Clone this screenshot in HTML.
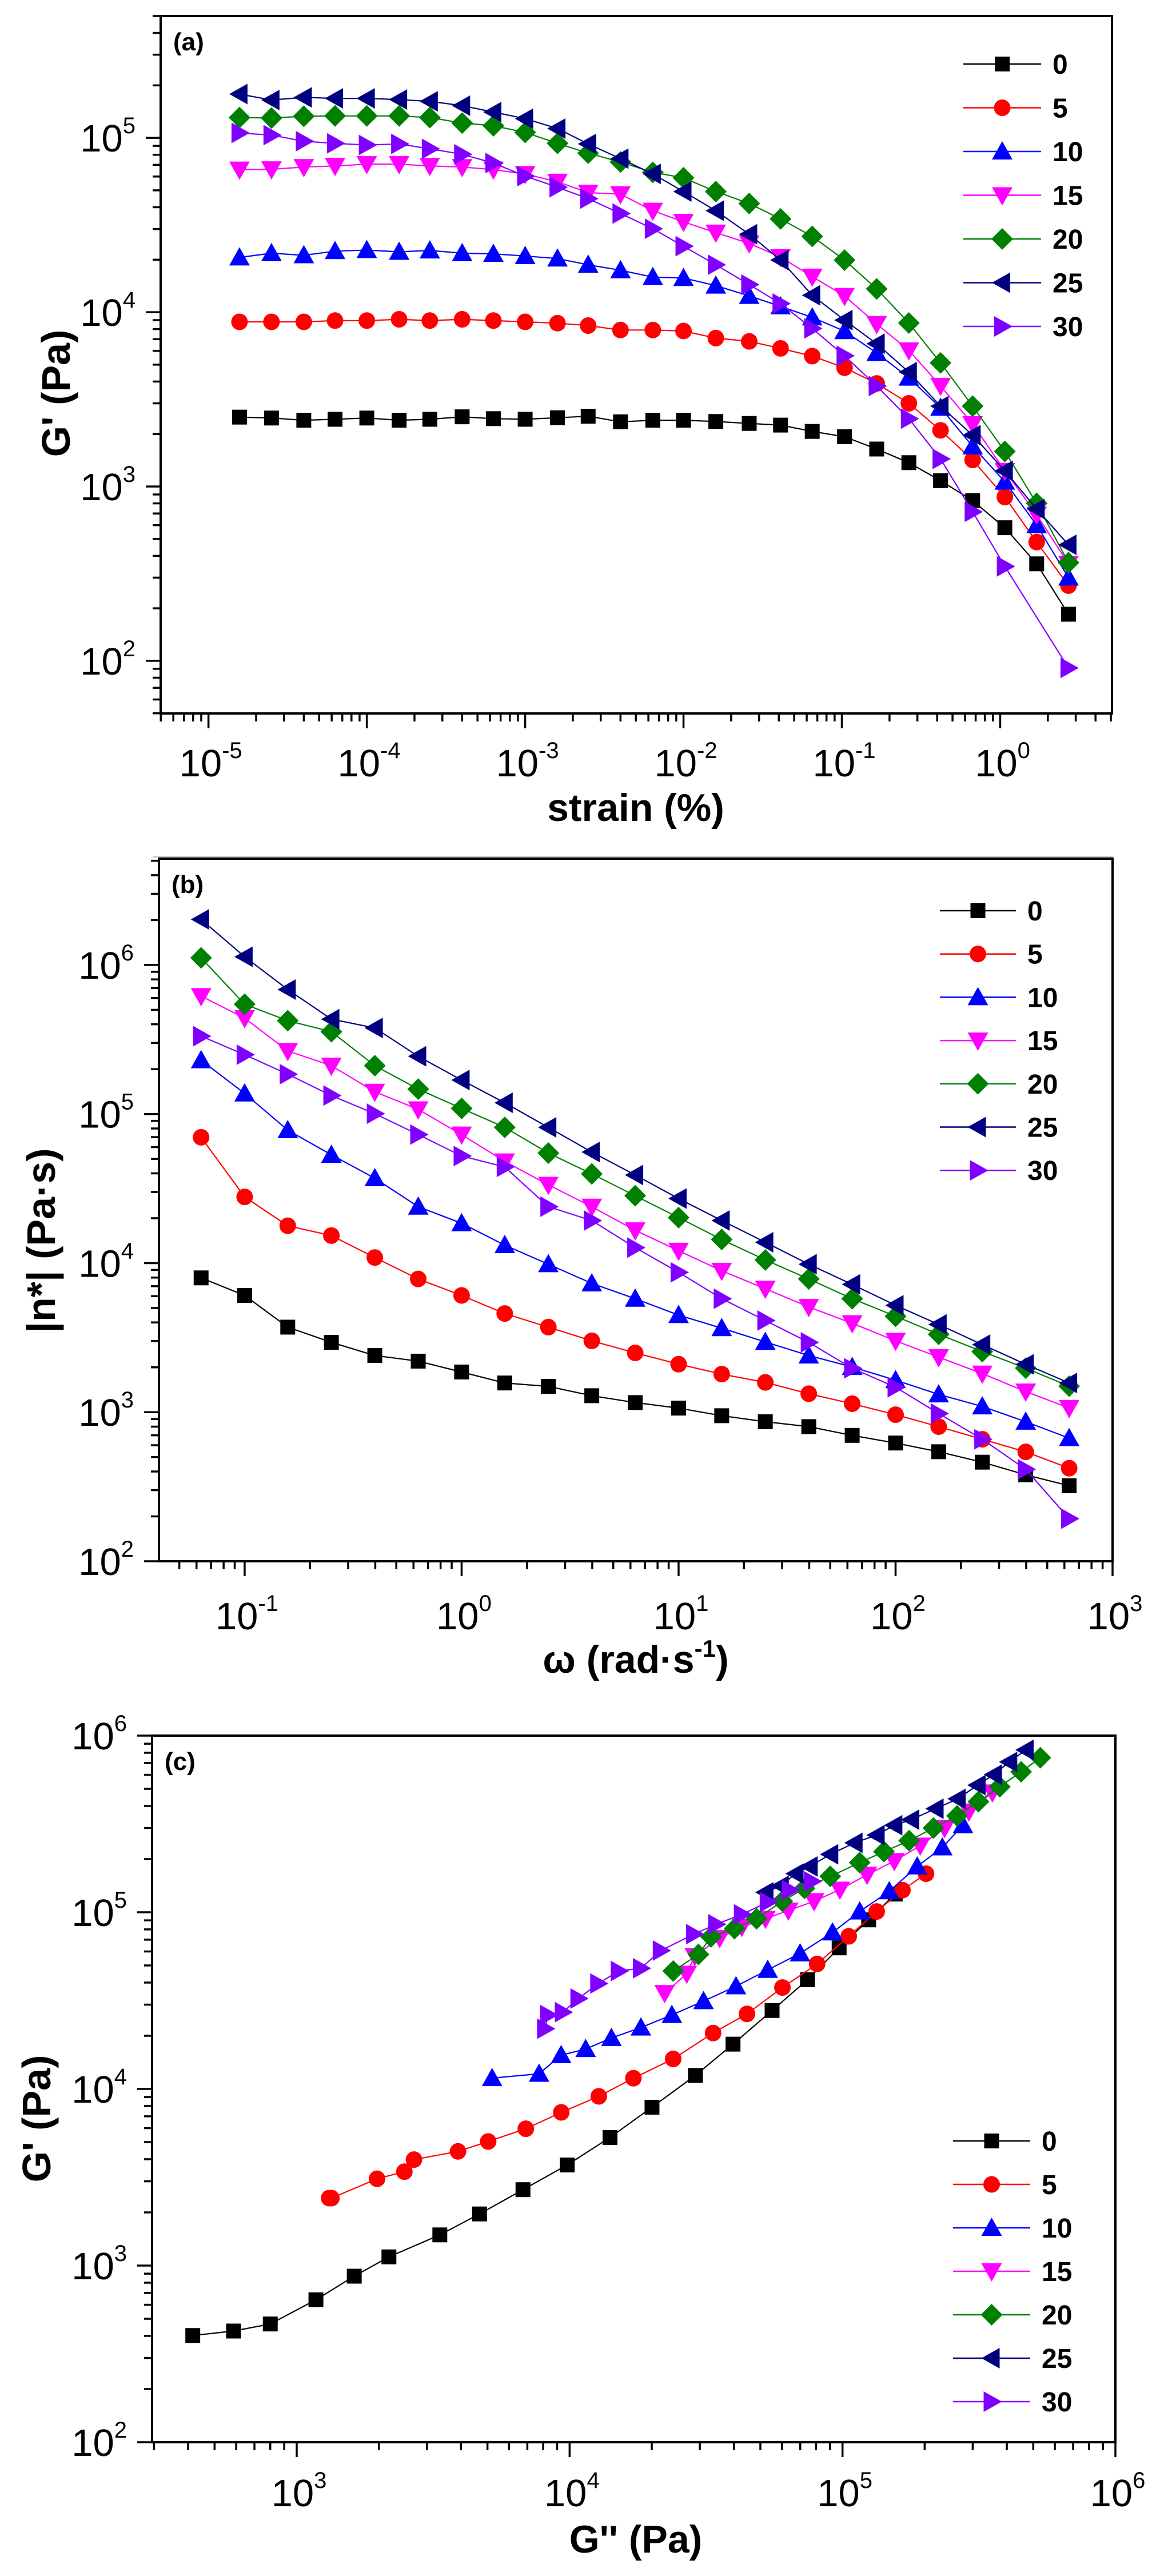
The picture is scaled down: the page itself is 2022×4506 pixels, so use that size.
<!DOCTYPE html>
<html><head><meta charset="utf-8"><title>Rheology figure</title>
<style>
html,body{margin:0;padding:0;background:#fff;}
svg{display:block;font-family:"Liberation Sans",Arial,sans-serif;}
</style></head>
<body>
<svg id="fig" width="2022" height="4506" viewBox="0 0 2022 4506" xmlns="http://www.w3.org/2000/svg">
<line x1="267" y1="1499" x2="1947" y2="1499" stroke="#bbb" stroke-width="2"/>
</svg>
<script>
// ---------- shared ----------
const seriesNames = ["0","5","10","15","20","25","30"];
const seriesColors = ["#000000","#ff0000","#0000ff","#ff00ff","#008000","#000080","#8000ff"];
const seriesShapes = ["square","circle","up","down","diamond","left","right"];

// ---------- panel (a): G' vs strain ----------
const strainA = [1.57e-5,2.5e-5,4.0e-5,6.3e-5,1.0e-4,1.6e-4,2.5e-4,4.0e-4,6.3e-4,1.0e-3,1.6e-3,2.5e-3,4.0e-3,6.4e-3,1.0e-2,1.6e-2,2.6e-2,4.1e-2,6.5e-2,0.104,0.166,0.265,0.42,0.67,1.07,1.7,2.7];
const gA0 = [2500,2470,2400,2430,2470,2400,2430,2510,2450,2430,2480,2530,2350,2400,2400,2360,2300,2250,2070,1930,1640,1370,1080,830,580,360,185];
const gA5 = [8800,8800,8800,8950,8950,9100,8950,9100,8950,8800,8650,8380,7900,7900,7800,7100,6800,6200,5600,4800,3900,3000,2100,1420,870,480,270];
const gA10 = [20600,21800,21200,22400,22700,22200,22600,21800,21600,21000,20300,18700,17400,15900,15700,14200,12400,10800,9330,7780,5830,4210,2830,1700,1065,600,300];
const gA15 = [65800,66000,68000,69000,70700,70700,69000,68000,65800,62000,56000,48500,47500,38200,33000,28600,24800,20700,16000,12400,8550,6040,3780,2280,1230,690,360];
const gA20 = [130700,130000,133000,133600,133600,133600,130700,121600,117300,107500,93000,81700,72700,63400,59000,49200,42000,34300,27200,19900,13600,8670,5120,2890,1590,800,366];
const gA25 = [178300,164800,170700,168400,168400,165800,162000,153000,140600,128800,113100,92300,76000,62100,49200,38200,28000,19900,12500,9000,6590,4530,2890,1970,1230,743,463];
const gA30 = [106700,103700,95700,93000,91000,92300,86500,80500,71700,60300,52100,44800,36800,30100,23900,18700,14400,11200,8070,5620,3770,2450,1440,716,348,null,91];
const xTicksA = [-5,-4,-3,-2,-1,0];
const yTicksA = [2,3,4,5];

// ---------- panel (b): |n*| vs omega ----------
const omegaB = [0.063,0.1,0.158,0.251,0.398,0.631,1.0,1.58,2.51,3.98,6.31,10,15.8,25.1,39.8,63.1,100,158,251,398,631];
const eB0 = [7960,6070,3720,2940,2400,2200,1860,1570,1490,1290,1160,1065,947,863,800,699,621,543,462,380,321];
const eB5 = [69800,27800,17800,15300,10900,7830,6070,4590,3720,3010,2500,2100,1800,1585,1330,1140,962,800,658,542,421];
const eB10 = [229600,137400,78000,53300,37100,23900,18500,13200,9830,7310,5770,4480,3660,2960,2400,2010,1640,1316,1093,863,670];
const eB15 = [618000,440000,265000,211000,141000,107500,72800,48100,33500,23900,16600,12100,8880,6730,5080,3950,3010,2340,1815,1375,1067];
const eB20 = [1116000,545000,423000,357000,211000,147000,109000,81400,54700,39700,28300,20200,14400,10500,7830,5770,4400,3330,2550,1975,1494];
const eB25 = [2020000,1135000,684000,433000,378000,244000,169000,119000,81400,55600,39000,27100,19300,13800,9830,7200,5210,3880,2840,2095,1570];
const eB30 = [333000,250000,185000,133000,100500,72800,52300,44200,23900,19300,12700,8670,5770,4120,2940,1970,1470,980,658,414,193];
const xTicksB = [-1,0,1,2,3];
const yTicksB = [2,3,4,5,6];

// ---------- panel (c): G' vs G'' ----------
const gppC0 = [416,587,800,1176,1625,2177,3345,4677,6747,9800,14060,20040,28900,39700,55200,74400,97200,124700,156000];
const gpC0 = [402,426,467,640,871,1120,1492,1960,2690,3710,5310,7880,11920,17930,27800,41500,62900,90600,126800];
const gppC5 = [1315,1340,1970,2480,2690,3900,5030,6910,9320,12790,17130,23960,33560,44670,60240,80700,105400,133400,165800,202400];
const gpC5 = [2410,2410,3100,3400,3980,4430,5040,5950,7370,9080,11500,14790,20720,26600,37500,51000,73100,101000,133500,165400];
const gppC10 = [5200,7730,9310,11450,14230,18250,23700,30960,40700,53200,69900,91900,115600,148300,187800,232100,276400];
const gpC10 = [11510,12180,15530,16810,19420,22250,26220,31400,38100,47200,58500,76900,101000,131500,181600,233000,311000];
const gppC15 = [22300,26870,28730,35480,42760,52200,63300,78700,97800,123000,154900,192600,236600,290500,354000];
const gpC15 = [34900,44900,56500,71500,82600,91900,102300,115500,134400,163000,195000,238400,300000,371700,477000];
const gppC20 = [23970,29660,32970,40190,48420,60200,72600,90200,115600,141900,175400,215400,262800,314800,377000,451300,530700];
const gpC20 = [46500,57700,72600,80800,91900,115500,136500,159700,191000,220500,254300,300000,351300,423000,514000,624000,750000];
const gppC25 = [52200,59400,67300,75800,90200,110700,133400,154900,178600,219300,264200,312600,358900,408300,468800];
const gpC25 = [129700,141300,165400,181600,212800,247300,273400,311000,334300,385700,438600,524600,601500,709700,830000];
const gppC30 = [8130,8340,9440,10770,12730,15140,18250,21580,28570,34430,42780,53200,64160,77300];
const gpC30 = [21900,26200,27200,32500,39500,46500,48200,60700,75200,85500,97300,114000,133500,149700];
const xTicksC = [3,4,5,6];
const yTicksC = [2,3,4,5,6];

// ---------- drawing ----------
const NS = "http://www.w3.org/2000/svg";
const svg = document.getElementById("fig");
function mk(tag, attrs, parent){
  const e = document.createElementNS(NS, tag);
  for (const k in attrs) e.setAttribute(k, attrs[k]);
  (parent||svg).appendChild(e);
  return e;
}
function logScale(lo, hi, p0, p1){
  return v => p0 + (Math.log10(v) - lo) / (hi - lo) * (p1 - p0);
}
function markerEl(shape, color, x, y, g){
  let e; const s = 13;
  if (shape === "square") e = mk("rect",{x:x-s,y:y-s,width:2*s,height:2*s,fill:color},g);
  else if (shape === "circle") e = mk("circle",{cx:x,cy:y,r:14.5,fill:color},g);
  else {
    let pts;
    const a = 18, b = 16;
    if (shape === "up") pts = [[x,y-b-2],[x-a,y+b-2],[x+a,y+b-2]];
    else if (shape === "down") pts = [[x,y+b+2],[x-a,y-b+2],[x+a,y-b+2]];
    else if (shape === "left") pts = [[x-b-2,y],[x+b-2,y-a],[x+b-2,y+a]];
    else if (shape === "right") pts = [[x+b+2,y],[x-b+2,y-a],[x-b+2,y+a]];
    else pts = [[x,y-19],[x+19,y],[x,y+19],[x-19,y]];
    e = mk("polygon",{points:pts.map(p=>p.join(",")).join(" "),fill:color},g);
  }
  return e;
}
function tickLabel(x, y, exp, anchor, g){
  const t = mk("text",{x:x,y:y,"font-size":67,"text-anchor":anchor,fill:"#000"},g);
  
  
  const a = document.createElementNS(NS,"tspan"); a.textContent = "10"; t.appendChild(a);
  const b = document.createElementNS(NS,"tspan"); b.setAttribute("dy","-32"); b.setAttribute("font-size","40");
  b.textContent = String(exp); t.appendChild(b);
  return t;
}

function drawPanel(cfg){
  const g = mk("g",{});
  
  
  const X = logScale(cfg.xlo, cfg.xhi, cfg.L, cfg.R);
  const Y = logScale(cfg.ylo, cfg.yhi, cfg.B, cfg.T);
  const fr = mk("rect",{x:cfg.L,y:cfg.T,width:cfg.R-cfg.L,height:cfg.B-cfg.T,fill:"none",stroke:"#000","stroke-width":4},g);
  
  
  for (let k = Math.floor(cfg.xlo); k <= Math.ceil(cfg.xhi); k++){
    for (let m = 1; m <= 9; m++){
      const lv = k + Math.log10(m);
      if (lv < cfg.xlo - 1e-6 || lv > cfg.xhi + 1e-6) continue;
      const x = X(Math.pow(10, lv));
      const len = m === 1 ? 26 : 14;
      const tk = mk("line",{x1:x,y1:cfg.B,x2:x,y2:cfg.B+len,stroke:"#000","stroke-width":3.5},g);
      
      
    }
  }
  cfg.xTicks.forEach(k => tickLabel(X(Math.pow(10,k)) + 4, cfg.B + cfg.xlabOff, k, "middle", g));
  for (let k = Math.floor(cfg.ylo); k <= Math.ceil(cfg.yhi); k++){
    for (let m = 1; m <= 9; m++){
      const lv = k + Math.log10(m);
      if (lv < cfg.ylo - 1e-6 || lv > cfg.yhi + 1e-6) continue;
      const y = Y(Math.pow(10, lv));
      const len = m === 1 ? 26 : 14;
      const tk = mk("line",{x1:cfg.L-len,y1:y,x2:cfg.L,y2:y,stroke:"#000","stroke-width":3.5},g);
      
      
    }
  }
  cfg.yTicks.forEach(k => tickLabel(cfg.L - 44, Y(Math.pow(10,k)) + 24, k, "end", g));
  cfg.series.forEach((s, i) => {
    const sg = mk("g",{},g);
    
    
    const pts = [];
    s.x.forEach((xv, j) => { const yv = s.y[j]; if (yv != null && xv != null) pts.push([X(xv), Y(yv)]); });
    const pl = mk("polyline",{points:pts.map(p=>p[0].toFixed(1)+","+p[1].toFixed(1)).join(" "),fill:"none",stroke:seriesColors[i],"stroke-width":2.2},sg);
    
    
    pts.forEach(p => {
      const m = markerEl(seriesShapes[i], seriesColors[i], p[0], p[1], sg);
      
      
    });
  });
  const lg = mk("g",{},g);
  
  
  seriesNames.forEach((nm, i) => {
    const y = cfg.legY0 + i * cfg.legDy;
    const eg = mk("g",{},lg);
    
    
    mk("line",{x1:cfg.legX0,y1:y,x2:cfg.legX1,y2:y,stroke:seriesColors[i],"stroke-width":2.5},eg);
    markerEl(seriesShapes[i], seriesColors[i], (cfg.legX0+cfg.legX1)/2, y, eg);
    const t = mk("text",{x:cfg.legX1+20,y:y+17,"font-size":48,"font-weight":"bold",fill:"#000"},eg);
    t.textContent = nm;
  });
  const pl = mk("text",{x:cfg.L+22,y:cfg.T+60,"font-size":44,"font-weight":"bold",fill:"#000"},g);
  
  
  pl.textContent = cfg.label;
  const xt = mk("text",{x:1112,y:cfg.xTitleY,"font-size":68,"font-weight":"bold","text-anchor":"middle",fill:"#000"},g);
  
  
  xt.innerHTML = cfg.xTitle;
  const yt = mk("text",{x:0,y:0,"font-size":70,"font-weight":"bold","text-anchor":"middle",fill:"#000",transform:"translate("+cfg.yTitleX+","+cfg.yTitleY+") rotate(-90)"},g);
  
  
  yt.textContent = cfg.yTitle;
}

drawPanel({name:"panel-a-strain-sweep", label:"(a)", L:281, R:1945, T:28, B:1248,
  xlo:-5.302, xhi:0.706, ylo:1.698, yhi:5.699, xTicks:xTicksA, yTicks:yTicksA, xlabOff:110,
  series:[{x:strainA,y:gA0},{x:strainA,y:gA5},{x:strainA,y:gA10},{x:strainA,y:gA15},{x:strainA,y:gA20},{x:strainA,y:gA25},{x:strainA,y:gA30}],
  legX0:1685, legX1:1821, legY0:112, legDy:76.5,
  xTitle:"strain (%)", xTitleY:1436, yTitle:"G' (Pa)", yTitleX:122, yTitleY:688});

drawPanel({name:"panel-b-complex-viscosity", label:"(b)", L:278, R:1946, T:1502, B:2731,
  xlo:-1.395, xhi:3, ylo:2, yhi:6.713, xTicks:xTicksB, yTicks:yTicksB, xlabOff:119,
  series:[{x:omegaB,y:eB0},{x:omegaB,y:eB5},{x:omegaB,y:eB10},{x:omegaB,y:eB15},{x:omegaB,y:eB20},{x:omegaB,y:eB25},{x:omegaB,y:eB30}],
  legX0:1644, legX1:1777, legY0:1593, legDy:75.7,
  xTitle:"ω (rad·s<tspan dy='-28' font-size='42'>-1</tspan><tspan dy='28'>)</tspan>", xTitleY:2926, yTitle:"|n*| (Pa·s)", yTitleX:96, yTitleY:2170});

drawPanel({name:"panel-c-modulus-crossplot", label:"(c)", L:266, R:1951, T:3036, B:4272,
  xlo:2.47, xhi:6, ylo:2, yhi:6, xTicks:xTicksC, yTicks:yTicksC, xlabOff:112,
  series:[{x:gppC0,y:gpC0},{x:gppC5,y:gpC5},{x:gppC10,y:gpC10},{x:gppC15,y:gpC15},{x:gppC20,y:gpC20},{x:gppC25,y:gpC25},{x:gppC30,y:gpC30}],
  legX0:1667, legX1:1802, legY0:3745, legDy:76,
  xTitle:"G'' (Pa)", xTitleY:4465, yTitle:"G' (Pa)", yTitleX:88, yTitleY:3706});
</script>
</body></html>
